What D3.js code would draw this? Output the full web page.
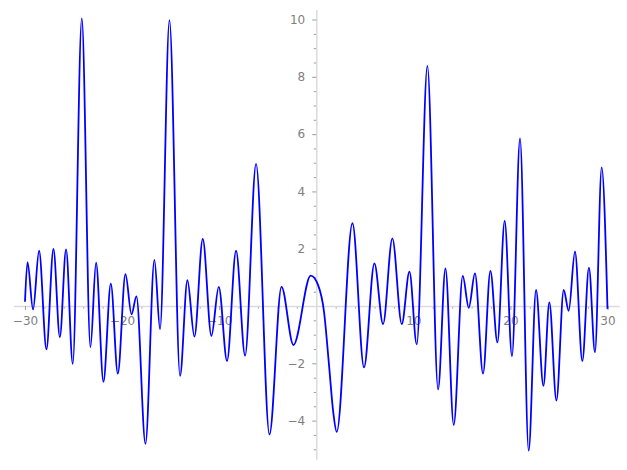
<!DOCTYPE html>
<html>
<head>
<meta charset="utf-8">
<script src="https://cdn.jsdelivr.net/npm/d3@7"></script>
<style>
  html, body { margin: 0; padding: 0; background: #fff; }
  svg { display: block; }
  .tick text { font-family: "DejaVu Sans", sans-serif; font-size: 12px; fill: #808080; }
</style>
</head>
<body>
<svg id="chart" width="627" height="470"></svg>
<script>
// Curve samples (local extrema and a few shape points)
const xValues = [-30, -29.74, -29.17, -28.55, -27.79, -27.07, -26.41, -25.77, -25.08, -24.15,
  -23.26, -22.68, -21.92, -21.16, -20.44, -19.65, -19.03, -18.52, -17.59, -16.67,
  -16.09, -15.12, -14.03, -13.27, -12.55, -11.69, -10.80, -10.04, -9.19, -8.26,
  -7.33, -6.20, -4.82, -3.58, -2.35, -0.57, 0.2, 0.8, 1.3, 1.75, 2.11,
  3.73, 4.92, 5.99, 6.88, 7.84, 8.81, 9.60, 10.35, 11.45, 12.55,
  13.31, 14.16, 15.09, 15.71, 16.35, 17.18, 17.94, 18.66, 19.41, 20.16,
  20.99, 21.88, 22.64, 23.40, 24.01, 24.74, 25.49, 26.00, 26.65, 27.41,
  28.09, 28.71, 29.40, 30];
const yValues = [0.15, 1.53, -0.12, 1.93, -1.51, 1.99, -1.09, 1.98, -2.02, 10.04,
  -1.44, 1.51, -2.64, 0.78, -2.36, 1.11, -0.29, 0.34, -4.81, 1.61,
  -0.81, 9.98, -2.44, 0.90, -1.07, 2.34, -1.04, 0.67, -1.92, 1.93,
  -1.73, 4.96, -4.48, 0.67, -1.36, 1.06, 0.72, -0.2, -2.0, -3.7, -4.39,
  2.89, -2.14, 1.49, -0.63, 2.36, -0.63, 1.20, -1.34, 8.38, -2.91,
  1.31, -4.15, 1.05, -0.06, 1.14, -2.36, 1.23, -1.27, 2.97, -1.75,
  5.85, -5.05, 0.56, -2.79, 0.13, -3.30, 0.56, -0.17, 1.90, -1.92,
  1.34, -1.62, 4.84, -0.1];

const xDomain = [-31.2, 31.2];
const yDomain = [-5.35, 10.35];
const xMajorTicks = [-30, -20, -10, 10, 20, 30];
const xMinorTicks = [-28, -26, -24, -22, -18, -16, -14, -12, -8, -6, -4, -2, 2, 4, 6, 8, 12, 14, 16, 18, 22, 24, 26, 28];
const yMajorTicks = [-4, -2, 2, 4, 6, 8, 10];
const yMinorTicks = [-5, -4.5, -3.5, -3, -2.5, -1.5, -1, -0.5, 0.5, 1, 1.5, 2.5, 3, 3.5, 4.5, 5, 5.5, 6.5, 7, 7.5, 8.5, 9, 9.5];

const svg = d3.select("#chart");
const x = d3.scaleLinear().domain(xDomain).range([13.35, 619.15]);
const y = d3.scaleLinear().domain(yDomain).range([459.3, 9.5]);

const axisColor = "#dcdcdc";
const tickColor = "#9a9a9a";

function styleAxis(g) {
  g.select(".domain").attr("stroke", axisColor).attr("stroke-width", 1.6);
  g.selectAll(".tick line").attr("stroke", tickColor).attr("stroke-width", 1);
}

// x axis (through y = 0)
svg.append("g")
  .attr("transform", `translate(0,${y(0)})`)
  .call(d3.axisBottom(x).tickValues(xMinorTicks).tickSize(2.5).tickSizeOuter(0).tickFormat(""))
  .call(g => { styleAxis(g); g.select(".domain").remove(); });
svg.append("g")
  .attr("transform", `translate(0,${y(0)})`)
  .call(d3.axisBottom(x).tickValues(xMajorTicks).tickSize(4).tickSizeOuter(0).tickPadding(6)
    .tickFormat(d => d < 0 ? "\u2212" + Math.abs(d) : String(d)))
  .call(styleAxis);

// y axis (through x = 0)
svg.append("g")
  .attr("transform", `translate(${x(0)},0)`)
  .call(d3.axisLeft(y).tickValues(yMinorTicks).tickSize(2.5).tickSizeOuter(0).tickFormat(""))
  .call(g => { styleAxis(g); g.select(".domain").remove(); });
svg.append("g")
  .attr("transform", `translate(${x(0)},0)`)
  .call(d3.axisLeft(y).tickValues(yMajorTicks).tickSize(4).tickSizeOuter(0).tickPadding(7)
    .tickFormat(d => d < 0 ? "\u2212" + Math.abs(d) : String(d)))
  .call(styleAxis);

// curve
const pts = xValues.map((v, i) => [v, yValues[i]]);
const line = d3.line()
  .x(d => x(d[0]))
  .y(d => y(d[1]))
  .curve(d3.curveMonotoneX);

svg.append("path")
  .datum(pts)
  .attr("d", line)
  .attr("fill", "none")
  .attr("stroke", "#0000ff")
  .attr("stroke-width", 1.8);
</script>
</body>
</html>
